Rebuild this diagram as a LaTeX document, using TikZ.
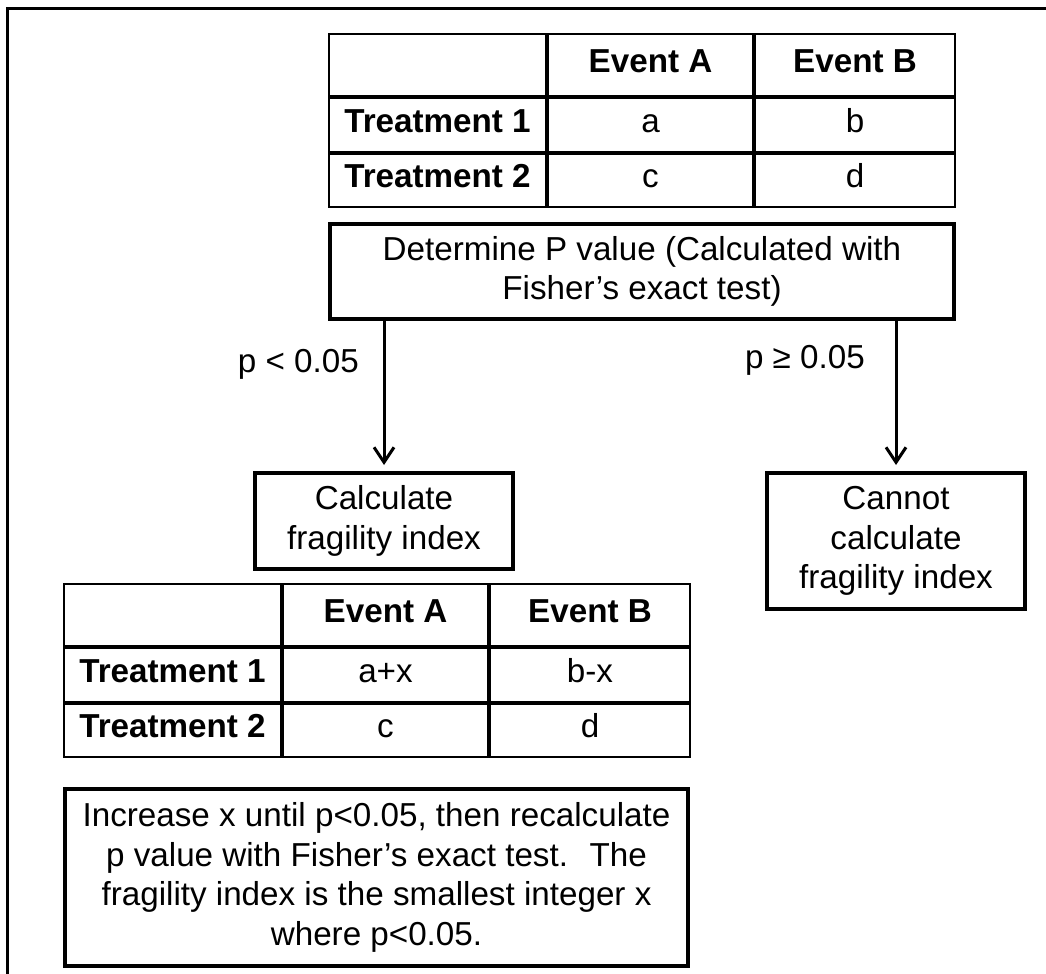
\documentclass[tikz,border=0pt]{standalone}
\usepackage{fontspec}
\setmainfont{Liberation Sans}
\usepackage{tikz}
\usetikzlibrary{positioning, calc, arrows.meta}

\begin{document}
\begin{tikzpicture}[x=0.5pt, y=-0.5pt, font=\fontsize{16.6pt}{19.8pt}\selectfont]
			\useasboundingbox (0,0) rectangle (1046,974);
			
			\tikzstyle{cell}=[draw, line width=1pt, inner sep=0pt, minimum width=102.5pt, text height=0.86em, text depth=0.14em]
			\tikzstyle{box}=[draw, line width=2pt, align=center, inner sep=2pt]
			\tikzstyle{arr}=[line width=1.5pt, -{Straight Barb[length=7.5pt, width=10pt, line width=1.5pt]}, shorten >=3pt]
			
			% frame, cut off on the right and at the bottom
			\draw[line width=1.1pt] (7.5,974) -- (7.5,8.5) -- (1046,8.5);
			
			% the two 2x2 tables
			\foreach \tb/\px/\py/\ca/\cb in {top/328/33/a/b, bot/63/583/a+x/b-x}{
				\coordinate (\tb-o) at (\px,\py);
				\node[cell, anchor=north west, minimum width=108.5pt, minimum height=31pt](\tb-00) at (\tb-o) {};
				\node[cell, right=0pt of \tb-00, minimum height=31pt](\tb-0a) {\bfseries Event A};
				\node[cell, right=0pt of \tb-0a, minimum width=100pt, minimum height=31pt](\tb-0b) {\bfseries Event B};
				
				\node[cell, below=0pt of \tb-00, minimum width=108.5pt, minimum height=27pt](\tb-10) {\bfseries Treatment 1};
				\node[cell, right=0pt of \tb-10, minimum height=27pt](\tb-1a) {\ca};
				\node[cell, right=0pt of \tb-1a, minimum width=100pt, minimum height=27pt](\tb-1b) {\cb};
				
				\node[cell, below=0pt of \tb-10, minimum width=108.5pt, minimum height=26.5pt](\tb-20) {\bfseries Treatment 2};
				\node[cell, right=0pt of \tb-20, minimum height=26.5pt](\tb-2a) {c};
				\node[cell, right=0pt of \tb-2a, minimum width=100pt, minimum height=26.5pt](\tb-2b) {d};
			}
			
			\node[box, below right=7pt and 0pt of top-20.south west, minimum width=312pt, minimum height=47.5pt](det) {Determine P value (Calculated with\\Fisher’s exact test)};
			
			\node[box, anchor=north, minimum width=129pt, minimum height=48pt](calc) at (384,471) {Calculate\\fragility index};
			\node[box, anchor=north, minimum width=129pt, minimum height=68pt](nocalc) at (896,471) {Cannot\\calculate\\fragility index};
			
			\draw[arr] (det.south -| calc.north) -- (calc.north) node[pos=0.29, left=8.5pt] {p < 0.05};
			\draw[arr] (det.south -| nocalc.north) -- (nocalc.north) node[pos=0.26, left=11.5pt] {p ≥ 0.05};
			
			\node[box, below right=14.5pt and 0pt of bot-20.south west, minimum width=311.5pt, minimum height=88.5pt](rule) {Increase x until p<0.05, then recalculate\\p value with Fisher’s exact test.~ The\\fragility index is the smallest integer x\\where p<0.05.};
			
\end{tikzpicture}
\end{document}
